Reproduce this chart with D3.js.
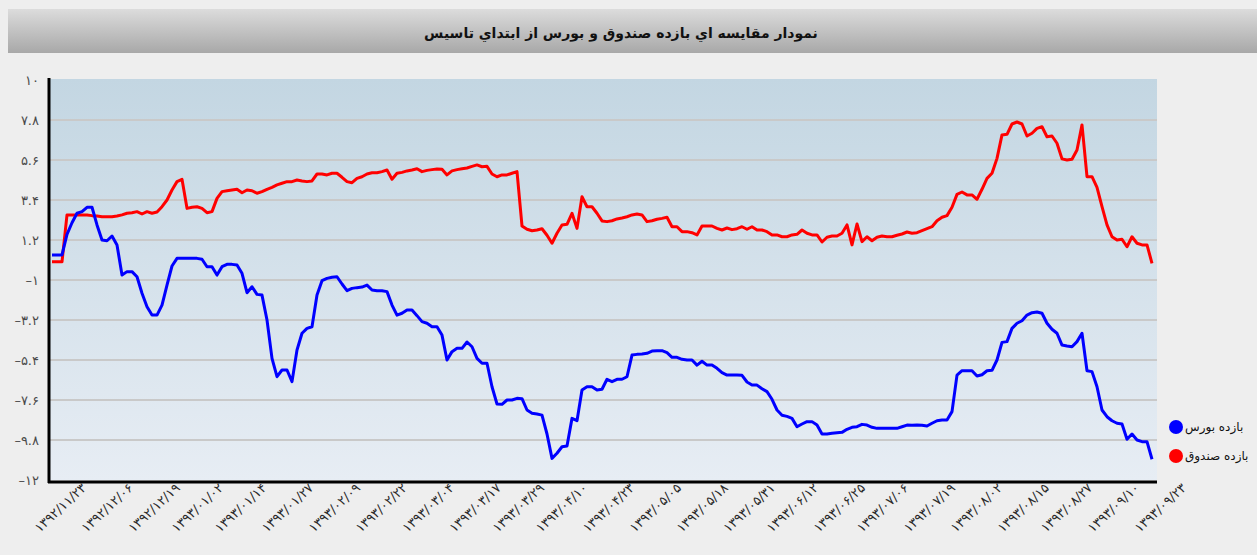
<!DOCTYPE html>
<html>
<head>
<meta charset="utf-8">
<script src="https://cdn.jsdelivr.net/npm/d3@7"></script>
<style>
  html, body { margin: 0; padding: 0; background: #eeeeee; }
  svg { display: block; }
</style>
</head>
<body>
<svg id="chart" width="1257" height="555"></svg>
<script>
// ---------------- DATA ----------------
const title = "نمودار مقايسه اي بازده صندوق و بورس از ابتداي تاسيس";
const seriesNames = ["بازده بورس", "بازده صندوق"];
const totalDays = 305; // 1392/11/23 .. 1393/09/23

const xLabels = [
  "۱۳۹۲/۱۱/۲۳","۱۳۹۲/۱۲/۰۶","۱۳۹۲/۱۲/۱۹","۱۳۹۳/۰۱/۰۲","۱۳۹۳/۰۱/۱۴",
  "۱۳۹۳/۰۱/۲۷","۱۳۹۳/۰۲/۰۹","۱۳۹۳/۰۲/۲۲","۱۳۹۳/۰۳/۰۴","۱۳۹۳/۰۳/۱۷",
  "۱۳۹۳/۰۳/۲۹","۱۳۹۳/۰۴/۱۰","۱۳۹۳/۰۴/۲۳","۱۳۹۳/۰۵/۰۵","۱۳۹۳/۰۵/۱۸",
  "۱۳۹۳/۰۵/۳۱","۱۳۹۳/۰۶/۱۲","۱۳۹۳/۰۶/۲۵","۱۳۹۳/۰۷/۰۶","۱۳۹۳/۰۷/۱۹",
  "۱۳۹۳/۰۸/۰۲","۱۳۹۳/۰۸/۱۵","۱۳۹۳/۰۸/۲۷","۱۳۹۳/۰۹/۱۰","۱۳۹۳/۰۹/۲۳"
];
// day offset of each x label from the first date
const xLabelDays = [0,13,26,38,50,63,76,89,102,115,127,139,152,165,178,191,203,216,228,241,254,267,279,292,305];

const yTicks = [10, 7.8, 5.6, 3.4, 1.2, -1, -3.2, -5.4, -7.6, -9.8, -12];

// بازده صندوق (fund return, red)
const fundValues = [
  0.0,0.0,0.0,2.58,2.58,2.58,2.58,2.58,2.54,2.52,2.48,2.48,2.48,2.52,2.58,2.67,2.70,2.76,2.63,2.76,
  2.67,2.74,3.03,3.40,3.95,4.41,4.54,2.94,3.00,3.03,2.94,2.70,2.76,3.49,3.86,3.91,3.95,3.99,3.80,3.95,
  3.91,3.77,3.86,3.99,4.10,4.23,4.32,4.41,4.41,4.50,4.45,4.41,4.45,4.83,4.83,4.78,
  4.87,4.87,4.65,4.41,4.35,4.59,4.68,4.83,4.90,4.90,4.96,5.05,4.54,4.87,4.92,5.00,5.05,5.12,4.96,5.03,
  5.07,5.11,5.09,4.78,5.00,5.07,5.12,5.16,5.25,5.33,5.23,5.25,4.83,4.68,4.78,4.78,4.87,4.96,1.97,1.79,
  1.71,1.75,1.82,1.46,1.02,1.57,2.03,2.06,2.67,1.84,3.58,3.03,3.03,2.67,2.25,2.21,
  2.26,2.36,2.41,2.48,2.58,2.63,2.58,2.21,2.26,2.34,2.39,2.45,1.93,1.93,1.66,1.66,1.60,1.48,1.97,1.97,
  1.97,1.84,1.75,1.86,1.77,1.82,1.93,1.79,1.93,1.75,1.75,1.66,1.48,1.48,1.38,1.38,1.48,1.51,1.75,1.57,
  1.48,1.48,1.09,1.35,1.42,1.42,1.57,2.03,0.93,2.08,1.11,1.38,1.16,1.35,1.42,1.38,
  1.38,1.46,1.53,1.64,1.57,1.60,1.71,1.82,1.93,2.26,2.45,2.54,3.00,3.71,3.84,3.68,3.68,3.44,3.99,4.59,
  4.87,5.69,6.98,7.01,7.58,7.69,7.58,6.92,7.07,7.34,7.43,6.88,6.92,6.52,5.66,5.60,5.64,6.15,7.53,4.68,
  4.68,4.10,3.03,2.03,1.38,1.20,1.24,0.83,1.38,1.02,0.93,0.93,-0.08
];

// بازده بورس (market return, blue)
const marketValues = [
  0.38,0.38,0.38,1.51,2.15,2.67,2.76,3.00,3.00,2.03,1.20,1.16,1.42,0.93,-0.73,-0.54,-0.54,-0.82,-1.73,-2.47,
  -2.93,-2.93,-2.38,-1.28,-0.23,0.19,0.19,0.19,0.19,0.19,0.14,-0.27,-0.27,-0.73,-0.27,-0.14,-0.14,-0.18,-0.63,-1.70,
  -1.37,-1.79,-1.83,-3.20,-5.31,-6.32,-5.95,-5.95,-6.59,-4.85,-3.93,-3.66,-3.57,-1.83,-1.04,-0.91,
  -0.85,-0.82,-1.22,-1.59,-1.46,-1.42,-1.39,-1.28,-1.55,-1.59,-1.59,-1.64,-2.38,-2.93,-2.83,-2.65,-2.65,-2.96,-3.29,-3.38,
  -3.57,-3.57,-4.03,-5.40,-4.94,-4.76,-4.76,-4.41,-4.67,-5.31,-5.58,-5.58,-6.87,-7.82,-7.84,-7.60,-7.60,-7.51,-7.53,-8.15,
  -8.33,-8.37,-8.43,-9.47,-10.81,-10.53,-10.17,-10.13,-8.61,-8.74,-7.05,-6.87,-6.87,-7.05,-7.01,-6.46,
  -6.59,-6.46,-6.46,-6.32,-5.13,-5.09,-5.07,-5.03,-4.91,-4.89,-4.89,-5.00,-5.25,-5.25,-5.36,-5.40,-5.40,-5.68,-5.47,-5.68,
  -5.68,-5.86,-6.10,-6.23,-6.23,-6.23,-6.24,-6.61,-6.78,-6.78,-6.98,-7.14,-7.56,-8.15,-8.44,-8.50,-8.61,-9.07,-8.92,-8.79,
  -8.79,-8.98,-9.47,-9.47,-9.43,-9.40,-9.38,-9.21,-9.10,-9.07,-8.94,-8.98,-9.10,-9.16,-9.16,-9.16,
  -9.16,-9.16,-9.07,-8.98,-8.99,-8.98,-8.99,-9.03,-8.88,-8.74,-8.70,-8.70,-8.24,-6.23,-5.99,-5.99,-5.99,-6.28,-6.21,-5.99,
  -5.97,-5.40,-4.43,-4.39,-3.66,-3.38,-3.24,-2.93,-2.80,-2.76,-2.83,-3.38,-3.71,-3.93,-4.58,-4.63,-4.67,-4.39,-3.93,-5.99,
  -6.04,-6.87,-8.15,-8.52,-8.74,-8.88,-8.92,-9.76,-9.47,-9.80,-9.89,-9.89,-10.86
];

const colors = { market: "#0000ff", fund: "#ff0000" };

// ---------------- HELPERS ----------------
const faDigits = "۰۱۲۳۴۵۶۷۸۹";
const toFa = s => String(s).replace(/[0-9]/g, d => faDigits[+d]);
const fmtY = v => (v < 0 ? "\u2013" : "") + toFa(Math.abs(v));

// ---------------- LAYOUT ----------------
const W = 1257, H = 555;
const plot = { left: 50, right: 1157, top: 79, bottom: 480 };

const svg = d3.select("#chart");
const defs = svg.append("defs");

const tg = defs.append("linearGradient").attr("id", "titleGrad")
  .attr("x1", 0).attr("y1", 0).attr("x2", 0).attr("y2", 1);
tg.append("stop").attr("offset", "0%").attr("stop-color", "#dcdcdc");
tg.append("stop").attr("offset", "100%").attr("stop-color", "#a8a8a8");

const pg = defs.append("linearGradient").attr("id", "plotGrad")
  .attr("x1", 0).attr("y1", 0).attr("x2", 0).attr("y2", 1);
pg.append("stop").attr("offset", "0%").attr("stop-color", "#c3d6e2");
pg.append("stop").attr("offset", "100%").attr("stop-color", "#e7edf4");

svg.append("rect").attr("width", W).attr("height", H).attr("fill", "#eeeeee");

// title bar
svg.append("rect").attr("x", 8).attr("y", 9).attr("width", W - 8).attr("height", 44)
  .attr("fill", "url(#titleGrad)");
svg.append("text")
  .attr("x", 621).attr("y", 38)
  .attr("text-anchor", "middle")
  .attr("direction", "rtl")
  .style("font-family", "'DejaVu Sans', sans-serif")
  .style("font-weight", "bold")
  .style("font-size", "14px")
  .attr("fill", "#111")
  .text(title);

// scales
const x = d3.scaleLinear().domain([0, totalDays]).range([52, 1152]);
const y = d3.scaleLinear().domain([-12, 10]).range([480, 80]);
const step = totalDays / (fundValues.length - 1);

// plot background
svg.append("rect")
  .attr("x", plot.left).attr("y", plot.top)
  .attr("width", plot.right - plot.left).attr("height", plot.bottom - plot.top)
  .attr("fill", "url(#plotGrad)");

// gridlines
svg.append("g").selectAll("line").data(yTicks.filter(v => v !== 10 && v !== -12)).join("line")
  .attr("x1", plot.left).attr("x2", plot.right)
  .attr("y1", d => y(d)).attr("y2", d => y(d))
  .attr("stroke", "#c9c9c9").attr("stroke-width", 2);

// y axis labels
const yAxis = d3.axisLeft(y).tickValues(yTicks).tickSize(0).tickPadding(0).tickFormat(fmtY);
const gy = svg.append("g").attr("transform", "translate(39,0)").call(yAxis);
gy.select(".domain").remove();
gy.selectAll("text")
  .style("font-family", "'DejaVu Sans', sans-serif")
  .style("font-size", "13px")
  .attr("fill", "#4a4a4a")
  .attr("direction", "ltr");

// lines
const line = d3.line().x((d, i) => x(i * step)).y(d => y(d));
svg.append("path").datum(fundValues)
  .attr("d", line).attr("fill", "none")
  .attr("stroke", colors.fund).attr("stroke-width", 3).attr("stroke-linejoin", "round");
svg.append("path").datum(marketValues)
  .attr("d", line).attr("fill", "none")
  .attr("stroke", colors.market).attr("stroke-width", 3).attr("stroke-linejoin", "round");

// axis frame
svg.append("line").attr("x1", 49).attr("x2", 49).attr("y1", plot.top - 1).attr("y2", plot.bottom + 3)
  .attr("stroke", "#000").attr("stroke-width", 3);
svg.append("line").attr("x1", 48).attr("x2", plot.right).attr("y1", plot.bottom + 2).attr("y2", plot.bottom + 2)
  .attr("stroke", "#000").attr("stroke-width", 3);

// x labels
svg.append("g").selectAll("text").data(xLabels).join("text")
  .attr("transform", (d, i) => `translate(${x(xLabelDays[i]) + 35},${plot.bottom + 9}) rotate(-43)`)
  .attr("text-anchor", "end")
  .attr("direction", "ltr")
  .style("font-family", "'DejaVu Sans', sans-serif")
  .style("font-size", "13px")
  .style("letter-spacing", "1.8px")
  .attr("fill", "#2a2a2a")
  .text(d => d);

// legend
const legend = svg.append("g");
const legendItems = [
  { name: seriesNames[0], color: colors.market },
  { name: seriesNames[1], color: colors.fund }
];
legendItems.forEach((it, i) => {
  const ly = 427 + i * 29;
  legend.append("circle").attr("cx", 1176).attr("cy", ly).attr("r", 7).attr("fill", it.color);
  legend.append("text").attr("x", 1185).attr("y", ly + 4)
    .style("font-family", "'DejaVu Sans', sans-serif")
    .style("font-size", "12px")
    .attr("fill", "#111")
    .text(it.name);
});
</script>
</body>
</html>
